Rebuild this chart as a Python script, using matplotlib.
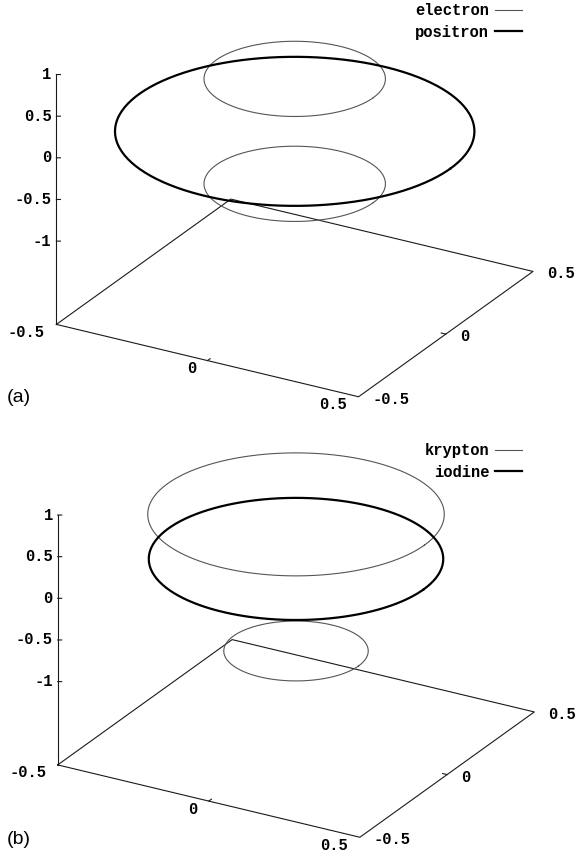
import numpy as np
import matplotlib
matplotlib.use("Agg")
import matplotlib.pyplot as plt
from mpl_toolkits.mplot3d import proj3d

# rings: height z and radius r of each horizontal circle
electron_z = [0.63, -0.63]
electron_r = [0.26, 0.26]
positron_z = [0.0]
positron_r = [0.515]

krypton_z = [0.69, -0.95]
krypton_r = [0.425, 0.207]
iodine_z = [0.155]
iodine_r = [0.422]

xy_ticks = [-0.5, 0, 0.5]
xy_labels = ["-0.5", "0", "0.5"]
z_ticks = [-1, -0.5, 0, 0.5, 1]
z_labels = ["-1", "-0.5", "0", "0.5", "1"]

W, H = 577, 857
ELEV, AZIM = 24.5, -60
ZBASE, ZTOP = -2.0, 1.0
S = 500  # side of the (square) 3d axes in pixels
PT = 0.72  # points per pixel at dpi 100

mono = dict(family="Liberation Mono", weight="bold", size=11.2)
thin = dict(color="#555555", lw=0.8)
thick = dict(color="black", lw=1.6)
frame = dict(color="#1a1a1a", lw=0.8)


def label(ax, x, y, z, text, dx, dy, ha):
    # put a tick label next to a 3d point, offset in pixels on screen
    x2, y2, _ = proj3d.proj_transform(x, y, z, ax.get_proj())
    ax.annotate(text, (x2, y2), xytext=(dx * PT, -dy * PT), textcoords="offset points",
                ha=ha, va="center", annotation_clip=False, **mono)


def draw_panel(fig, cx, cy, series, legend_top, tag, tag_y):
    # cx, cy: pixel position (from top-left) of the box centre
    left = cx - 0.5135 * S
    bottom = H - (cy + 0.5135 * S)
    ax = fig.add_axes([left / W, bottom / H, S / W, S / H], projection="3d")
    ax.set_proj_type("ortho")
    ax.view_init(elev=ELEV, azim=AZIM)
    ax.set_xlim(-0.5, 0.5)
    ax.set_ylim(-0.5, 0.5)
    ax.set_zlim(ZBASE, ZTOP)
    ax.set_box_aspect((1, 1, 0.787), zoom=1.0964)
    ax.set_axis_off()
    ax.patch.set_alpha(0)

    lo, hi = -0.5, 0.5
    # base plane and vertical z axis, gnuplot style
    ax.plot([lo, hi, hi, lo, lo], [lo, lo, hi, hi, lo], [ZBASE] * 5, clip_on=False, **frame)
    ax.plot([lo, lo], [lo, lo], [ZBASE, ZTOP], clip_on=False, **frame)

    for zv, lab in zip(z_ticks, z_labels):
        ax.plot([lo, lo + 0.01], [lo, lo + 0.0058], [zv, zv], clip_on=False, **frame)
        label(ax, lo, lo, zv, lab, -5, 0, "right")

    for v, lab in zip(xy_ticks, xy_labels):
        if lo < v < hi:
            ax.plot([v, v], [lo, lo + 0.015], [ZBASE, ZBASE], clip_on=False, **frame)
            ax.plot([hi, hi - 0.015], [v, v], [ZBASE, ZBASE], clip_on=False, **frame)
        label(ax, v, lo, ZBASE, lab, -11.5, 8, "right")
        label(ax, hi, v, ZBASE, lab, 14, 2.5, "left")

    t = np.linspace(0, 2 * np.pi, 240)
    handles = []
    for name, zs, rs, style in series:
        h = None
        for z, r in zip(zs, rs):
            (ln,) = ax.plot(r * np.cos(t), r * np.sin(t), np.full_like(t, z),
                            clip_on=False, **style)
            h = h or ln
        handles.append((h, name))

    ax.legend([h for h, _ in handles], [n for _, n in handles],
              loc="upper right", bbox_to_anchor=(522 / W, 1 - legend_top / H),
              bbox_transform=fig.transFigure, frameon=False, markerfirst=False,
              handlelength=1.75, handletextpad=0.35, labelspacing=0.43,
              borderpad=0, borderaxespad=0, prop=mono)

    fig.text(7 / W, 1 - tag_y / H, tag, ha="left", va="center",
             family="Liberation Sans", size=14)
    return ax


fig = plt.figure(figsize=(W / 100, H / 100), dpi=100)

draw_panel(fig, 294.7, 173.0,
           [("electron", electron_z, electron_r, thin),
            ("positron", positron_z, positron_r, thick)],
           legend_top=3, tag="(a)", tag_y=398)

draw_panel(fig, 296.0, 613.5,
           [("krypton", krypton_z, krypton_r, thin),
            ("iodine", iodine_z, iodine_r, thick)],
           legend_top=443, tag="(b)", tag_y=839)

fig.savefig("out.png", dpi=100)
